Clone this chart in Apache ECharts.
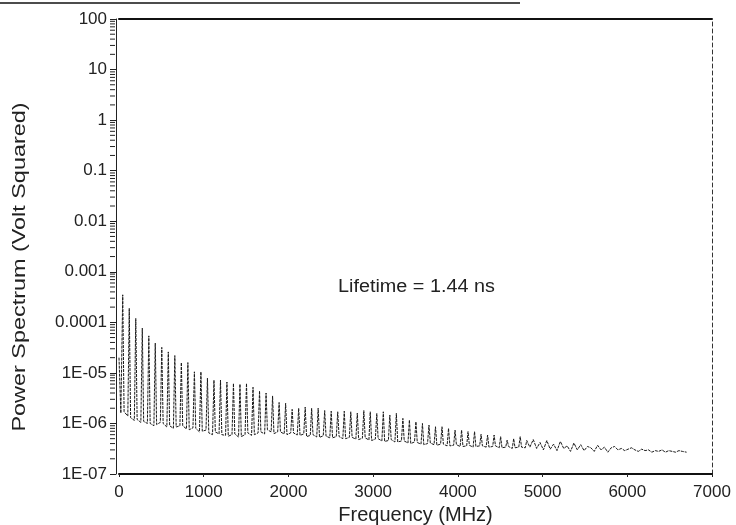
<!DOCTYPE html>
<html><head><meta charset="utf-8">
<script src="https://cdn.jsdelivr.net/npm/echarts@6/dist/echarts.min.js"></script>
<style>html,body{margin:0;padding:0;background:#fff}#c{width:736px;height:525px}</style>
</head><body><div id="c"></div>
<script>
// ---- data ----
const startFreq = [0, 22];
const startPower = [2e-5, 1.6e-6];

const peakFreq = [44,121,198,275,352,428,505,582,659,736,813,890,967,1044,1121,1198,1274,1351,1428,1505,1582,1659,1736,1813,1890,1967,2044,2121,2198,2274,2351,2428,2505,2582,2659,2736,2813,2890,2966,3043,3120,3197,3274,3351,3428,3505,3582,3659,3736,3813,3890,3967,4044,4120,4197,4274,4351,4428,4505,4582,4659,4736,4813];
const peakPower = [
  3.5e-4,1.9e-4,1.2e-4,7.7e-5,5.4e-5,3.9e-5,3.2e-5,2.6e-5,2.2e-5,1.6e-5,
  1.6e-5,1.05e-5,1.05e-5,7.9e-6,7.2e-6,7.2e-6,6.6e-6,6.2e-6,6.0e-6,6.2e-6,
  5.2e-6,4.4e-6,4.0e-6,3.5e-6,2.6e-6,2.5e-6,1.9e-6,2.0e-6,2.1e-6,2.0e-6,
  2.0e-6,1.8e-6,1.75e-6,1.7e-6,1.75e-6,1.7e-6,1.6e-6,1.8e-6,1.7e-6,1.58e-6,
  1.7e-6,1.47e-6,1.58e-6,1.26e-6,1.17e-6,1.08e-6,1.0e-6,9.3e-7,8.6e-7,8.6e-7,
  8.0e-7,7.4e-7,7.4e-7,6.9e-7,6.9e-7,6.1e-7,5.9e-7,5.9e-7,5.5e-7,4.7e-7,
  5.0e-7,5.5e-7,4.6e-7];

// trough (flat-ish bottom) between consecutive peaks: left and right ends
const troughLeftFreq = [60,137,214,291,368,444,521,598,675,752,829,906,983,1060,1137,1214,1290,1367,1444,1521,1598,1675,1752,1829,1906,1983,2060,2137,2214,2290,2367,2444,2521,2598,2675,2752,2829,2906,2982,3059,3136,3213,3290,3367,3444,3521,3598,3675,3752,3829,3906,3983,4060,4136,4213,4290,4367,4444,4521,4598,4675,4752];
const troughLeftPower = [
  1.7e-6,1.3e-6,1.2e-6,1.1e-6,1.0e-6,9.5e-7,1.0e-6,9.0e-7,8.5e-7,9.0e-7,
  7.5e-7,8.0e-7,7.0e-7,6.5e-7,6.8e-7,6.0e-7,5.6e-7,6.2e-7,5.5e-7,6.5e-7,
  6.0e-7,6.8e-7,7.5e-7,6.3e-7,6.8e-7,6.0e-7,6.5e-7,5.8e-7,5.5e-7,6.0e-7,
  5.3e-7,5.6e-7,5.2e-7,5.5e-7,5.0e-7,5.3e-7,4.8e-7,5.2e-7,4.6e-7,5.0e-7,
  4.4e-7,4.8e-7,4.3e-7,4.5e-7,4.0e-7,4.2e-7,3.8e-7,4.1e-7,3.7e-7,3.9e-7,
  3.6e-7,3.8e-7,3.5e-7,3.7e-7,3.5e-7,3.6e-7,3.4e-7,3.6e-7,3.3e-7,3.5e-7,
  3.3e-7,3.4e-7];
const troughRightFreq = [104,181,258,335,412,488,565,642,719,796,873,950,1027,1104,1181,1258,1334,1411,1488,1565,1642,1719,1796,1873,1950,2027,2104,2181,2258,2334,2411,2488,2565,2642,2719,2796,2873,2950,3026,3103,3180,3257,3334,3411,3488,3565,3642,3719,3796,3873,3950,4027,4104,4180,4257,4334,4411,4488,4565,4642,4719,4796];
const troughRightPower = [
  1.4e-6,1.15e-6,1.05e-6,1.0e-6,9.0e-7,1.05e-6,8.5e-7,8.0e-7,9.0e-7,7.8e-7,
  8.2e-7,6.8e-7,7.4e-7,6.0e-7,6.2e-7,5.8e-7,6.0e-7,5.4e-7,6.0e-7,5.8e-7,
  6.5e-7,6.2e-7,6.8e-7,6.8e-7,6.2e-7,6.5e-7,5.9e-7,6.2e-7,5.8e-7,5.4e-7,
  5.7e-7,5.2e-7,5.5e-7,5.0e-7,5.3e-7,4.9e-7,5.1e-7,4.7e-7,4.9e-7,4.5e-7,
  4.6e-7,4.3e-7,4.5e-7,4.1e-7,4.3e-7,3.9e-7,4.0e-7,3.8e-7,3.9e-7,3.6e-7,
  3.7e-7,3.5e-7,3.6e-7,3.4e-7,3.6e-7,3.4e-7,3.5e-7,3.3e-7,3.4e-7,3.2e-7,
  3.4e-7,3.3e-7];

const noiseFreq = [4850,4890,4930,4970,5010,5050,5090,5130,5170,5210,5250,5290,5330,5370,5410,5450,5490,5530,5570,5610,5650,5690,5730,5770,5810,5850,5890,5930,5970,6010,6050,6090,6130,6170,6210,6250,6290,6330,6370,6410,6450,6490,6530,6570,6610,6650,6700];
const noisePower = [
  3.4e-7,4.8e-7,3.2e-7,4.2e-7,3.0e-7,4.6e-7,3.1e-7,3.9e-7,2.9e-7,4.4e-7,
  3.2e-7,3.6e-7,2.8e-7,4.1e-7,3.0e-7,3.8e-7,2.9e-7,3.5e-7,3.3e-7,2.8e-7,
  3.7e-7,3.0e-7,3.4e-7,2.7e-7,3.3e-7,3.5e-7,3.0e-7,3.2e-7,2.9e-7,3.1e-7,
  3.3e-7,3.0e-7,2.8e-7,3.1e-7,2.9e-7,3.0e-7,2.7e-7,2.9e-7,2.8e-7,3.0e-7,
  2.7e-7,2.9e-7,2.8e-7,2.7e-7,2.9e-7,2.8e-7,2.7e-7];

// axis tick labels
const yTickLabels = ['1E-07','1E-06','1E-05','0.0001','0.001','0.01','0.1','1','10','100'];
const minorMantissa = [2,3,4,5,6,7,8,9];
const decadeExp = [-7,-6,-5,-4,-3,-2,-1,0,1];

// ---- build series table ----
const spectrum = [];
startFreq.forEach((f,i)=>spectrum.push([f,startPower[i]]));
peakFreq.forEach((f,k)=>{
  spectrum.push([f, peakPower[k]]);
  if (k < troughLeftFreq.length) {
    spectrum.push([troughLeftFreq[k], troughLeftPower[k]]);
    spectrum.push([troughRightFreq[k], troughRightPower[k]]);
  }
});
noiseFreq.forEach((f,i)=>spectrum.push([f,noisePower[i]]));

const minorTicks = [];
decadeExp.forEach(e=>minorMantissa.forEach(m=>minorTicks.push([0, m*Math.pow(10,e)])));

const FONT = '"Liberation Sans", Arial, Helvetica, sans-serif';
const TXT = '#222';

const chart = echarts.init(document.getElementById('c'));
chart.setOption({
  animation:false,
  backgroundColor:'#fff',
  grid:{left:119, right:24, top:19, bottom:51, containLabel:false, outerBoundsMode:'none'},
  xAxis:[{
    type:'value', min:0, max:7000, interval:1000,
    name:'Frequency (MHz)', nameLocation:'middle', nameGap:27,
    nameTextStyle:{fontFamily:FONT, fontSize:20, color:TXT},
    axisLine:{show:true, onZero:false, lineStyle:{color:'#111', width:2}},
    axisTick:{show:true, length:3, lineStyle:{color:'#222'}},
    axisLabel:{fontFamily:FONT, fontSize:17, color:TXT, margin:10, formatter:(v)=>String(v)},
    splitLine:{show:false}
  },{
    type:'value', position:'top', min:0, max:7000,
    axisLine:{show:true, onZero:false, lineStyle:{color:'#111', width:2}},
    axisTick:{show:false}, axisLabel:{show:false}, splitLine:{show:false}
  }],
  yAxis:[{
    type:'log', logBase:10, min:1e-7, max:100, splitNumber:9, interval:1,
    offset:3,
    axisLine:{show:true, onZero:false, lineStyle:{color:'#222', width:1}},
    axisTick:{show:true, length:6, lineStyle:{color:'#222'}},
    axisLabel:{fontFamily:FONT, fontSize:17, color:TXT, margin:9,
      formatter:(v)=>{const e=Math.round(Math.log10(v)); return yTickLabels[e+7] ?? '';}},
    splitLine:{show:false}
  },{
    type:'value', position:'right', min:0, max:1,
    axisLine:{show:true, onZero:false, lineStyle:{color:'#333', width:1, type:[4,3]}},
    axisTick:{show:false}, axisLabel:{show:false}, splitLine:{show:false}
  }],
  series:[{
    type:'line', data:spectrum, xAxisIndex:0, yAxisIndex:0,
    showSymbol:false, symbol:'none', sampling:false,
    lineStyle:{color:'#1a1a1a', width:1, type:[3,1]}
  },{
    type:'custom', data:minorTicks, xAxisIndex:0, yAxisIndex:0, clip:false, silent:true,
    renderItem:(params, api)=>{
      const p = api.coord([api.value(0), api.value(1)]);
      return {type:'line', shape:{x1:p[0]-9, y1:p[1], x2:p[0]-4, y2:p[1]},
        style:{stroke:'#222', lineWidth:1}};
    }
  }],
  graphic:[
    {type:'line', shape:{x1:0, y1:3, x2:520, y2:3}, style:{stroke:'#111', lineWidth:1.5}},
    {type:'text', x:20, y:267, rotation:Math.PI/2, scaleX:1.3,
      style:{text:'Power Spectrum (Volt Squared)', fontFamily:FONT, fontSize:18, fill:TXT,
        align:'center', verticalAlign:'middle'}},
    {type:'text', x:338, y:287, scaleX:1.1,
      style:{text:'Lifetime = 1.44 ns', fontFamily:FONT, fontSize:18, fill:TXT,
        align:'left', verticalAlign:'middle'}}
  ]
});
</script></body></html>
